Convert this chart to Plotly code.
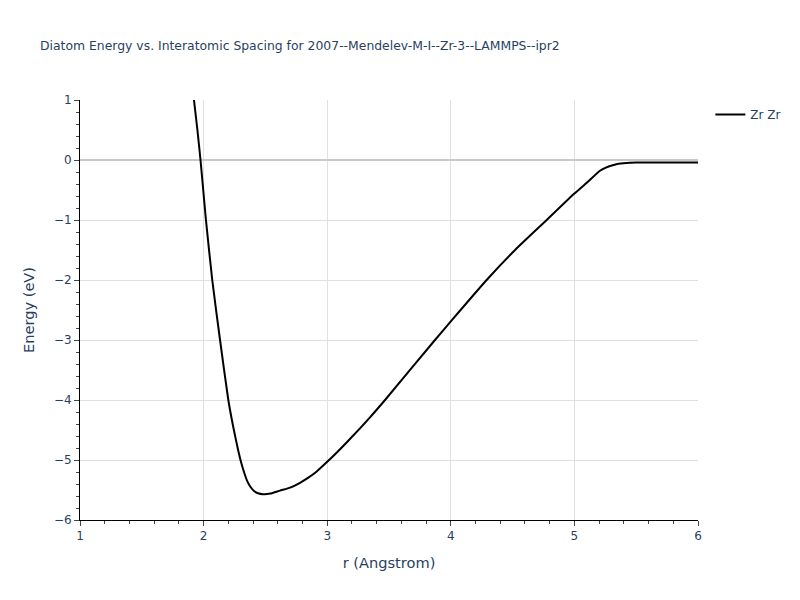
import plotly.graph_objects as go

r_vals = [1.922, 1.95, 1.975, 1.997, 2.019, 2.07, 2.133, 2.20, 2.24, 2.281, 2.305, 2.33,
          2.355, 2.38, 2.41, 2.44, 2.48, 2.54, 2.618, 2.70, 2.78, 2.85, 2.915, 3.0, 3.08,
          3.184, 3.35, 3.468, 3.872, 4.0, 4.29, 4.52, 4.776, 5.0, 5.1, 5.207, 5.25, 5.288,
          5.34, 5.396, 5.45, 5.50, 5.60, 5.80, 6.00]
energy_vals = [1.0, 0.5, 0.0, -0.5, -1.0, -2.0, -3.0, -4.0, -4.45, -4.85, -5.05, -5.22,
               -5.36, -5.45, -5.52, -5.555, -5.57, -5.56, -5.51, -5.46, -5.38, -5.29, -5.19,
               -5.03, -4.87, -4.65, -4.28, -4.0, -3.0, -2.69, -2.0, -1.5, -1.0, -0.56, -0.38,
               -0.18, -0.13, -0.1, -0.07, -0.055, -0.045, -0.04, -0.04, -0.04, -0.04]

FONT = "Verdana, DejaVu Sans, sans-serif"

fig = go.Figure()
fig.add_trace(go.Scatter(x=r_vals, y=energy_vals, mode="lines", name="Zr Zr",
                         line=dict(color="black", width=2, shape="spline", smoothing=0.5),
                         showlegend=True))

axis_common = dict(showline=True, linecolor="black", linewidth=1, ticks="outside",
                   ticklen=5, tickcolor="#444", showgrid=True, gridcolor="#e0e0e0",
                   gridwidth=1, mirror=False)

fig.update_layout(
    width=800, height=600,
    font=dict(family=FONT, size=12, color="#2a3f5f"),
    title=dict(text="Diatom Energy vs. Interatomic Spacing for 2007--Mendelev-M-I--Zr-3--LAMMPS--ipr2",
               font=dict(size=12.4, family=FONT), x=0.04, y=0.945),
    plot_bgcolor="white", paper_bgcolor="white",
    margin=dict(l=72, r=110, t=92, b=88),
    xaxis=dict(title=dict(text="r (Angstrom)", font=dict(size=14.6)), range=[1, 6], dtick=1,
               minor=dict(dtick=0.2, ticks="outside", ticklen=3, tickcolor="#444", showgrid=False),
               zeroline=False, **axis_common),
    yaxis=dict(title=dict(text="Energy (eV)", font=dict(size=14.6)), range=[-6, 1], dtick=1,
               minor=dict(dtick=0.2, ticks="outside", ticklen=3, tickcolor="#444", showgrid=False),
               zeroline=True, zerolinecolor="#c8c8c8", zerolinewidth=2, **axis_common),
    legend=dict(x=1.02, y=1.0, font=dict(size=12)),
)

fig.write_html("out.html")
